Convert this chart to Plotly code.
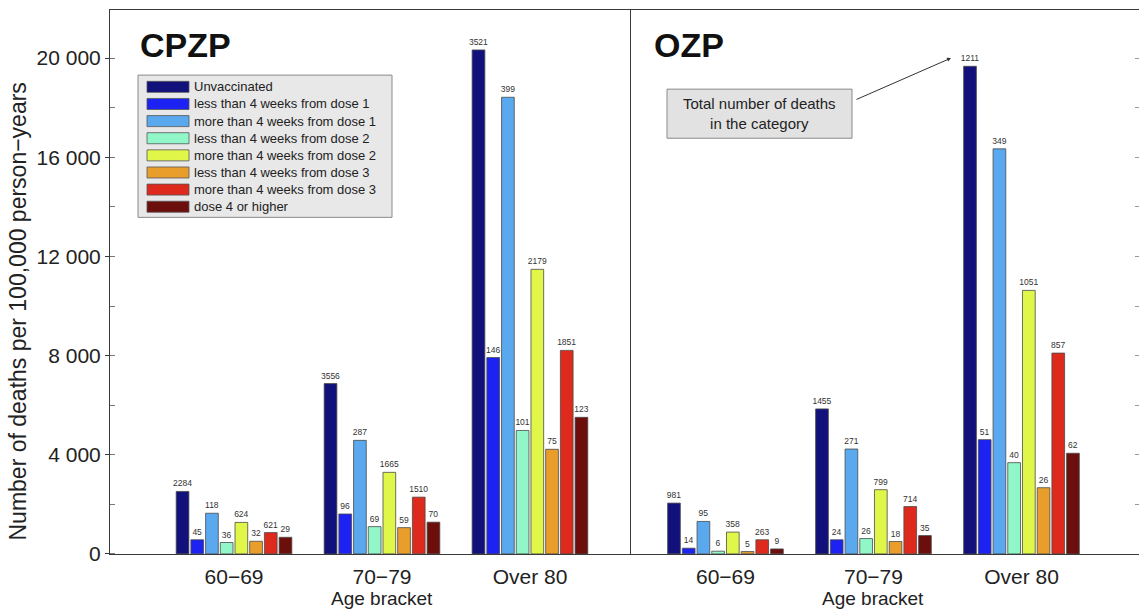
import plotly.graph_objects as go

W, H = 1139, 610
LAYOUT_H = 622  # the page trims about 12 px of plot height on display

age_brackets = ["60−69", "70−79", "Over 80"]

statuses = [
    "Unvaccinated",
    "less than 4 weeks from dose 1",
    "more than 4 weeks from dose 1",
    "less than 4 weeks from dose 2",
    "more than 4 weeks from dose 2",
    "less than 4 weeks from dose 3",
    "more than 4 weeks from dose 3",
    "dose 4 or higher",
]

colors = ["#12117c", "#1c22f2", "#5aa9ef", "#92f7c8",
          "#e0f74a", "#e99e2c", "#de2a1c", "#6c0e0c"]

# deaths per 100,000 person-years, per status: [60-69, 70-79, Over 80]
cpzp_rates = [
    [2520, 6870, 20330],
    [570, 1610, 7920],
    [1640, 4580, 18420],
    [460, 1100, 4980],
    [1270, 3290, 11480],
    [510, 1060, 4220],
    [860, 2290, 8210],
    [670, 1280, 5510],
]
cpzp_deaths = [
    [2284, 3556, 3521],
    [45, 96, 146],
    [118, 287, 399],
    [36, 69, 101],
    [624, 1665, 2179],
    [32, 59, 75],
    [621, 1510, 1851],
    [29, 70, 123],
]

ozp_rates = [
    [2050, 5850, 19670],
    [230, 570, 4610],
    [1310, 4230, 16340],
    [110, 620, 3680],
    [880, 2590, 10630],
    [95, 500, 2670],
    [570, 1910, 8100],
    [200, 740, 4060],
]
ozp_deaths = [
    [981, 1455, 1211],
    [14, 24, 51],
    [95, 271, 349],
    [6, 26, 40],
    [358, 799, 1051],
    [5, 18, 26],
    [263, 714, 857],
    [9, 35, 62],
]

y_ticks = [0, 4000, 8000, 12000, 16000, 20000]
y_tick_text = ["0", "4 000", "8 000", "12 000", "16 000", "20 000"]

FONT = "Liberation Sans, Arial, sans-serif"


def px_x(x):
    return x / W


def px_y(y):
    return 1 - y / H


fig = go.Figure()

for panel, (rates, deaths) in enumerate([(cpzp_rates, cpzp_deaths), (ozp_rates, ozp_deaths)]):
    xa = "x" if panel == 0 else "x2"
    ya = "y" if panel == 0 else "y2"
    for i, name in enumerate(statuses):
        fig.add_trace(go.Bar(
            x=age_brackets, y=rates[i], name=name,
            xaxis=xa, yaxis=ya, offsetgroup=str(i),
            marker=dict(color=colors[i], line=dict(color="#4a4a4a", width=0.8)),
            text=[str(d) for d in deaths[i]], textposition="outside",
            textangle=0, constraintext="none", cliponaxis=False,
            textfont=dict(size=8.5, color="#333333", family=FONT),
            showlegend=False,
        ))

y_top = 21940
axis_line = "#3a3a3a"

fig.update_layout(
    width=W, height=LAYOUT_H,
    margin=dict(l=0, r=0, t=0, b=0),
    paper_bgcolor="white", plot_bgcolor="white",
    barmode="group", bargap=0.205, bargroupgap=0.136,
    font=dict(family=FONT, color="#222222"),
    xaxis=dict(domain=[px_x(110), px_x(630)], range=[-0.838, 2.676],
               showline=True, mirror=True, linecolor=axis_line, linewidth=1,
               ticks="", showgrid=False, anchor="y",
               tickfont=dict(size=21, color="#222222"), ticklabelstandoff=4),
    yaxis=dict(domain=[px_y(553), px_y(10)], range=[0, y_top],
               showline=True, mirror=True, linecolor=axis_line, linewidth=1,
               showgrid=False, zeroline=False, anchor="x",
               tickvals=y_ticks, ticktext=y_tick_text,
               ticks="outside", ticklen=4, tickcolor=axis_line,
               minor=dict(dtick=2000, ticks="inside", ticklen=5, tickcolor="#777777"),
               tickfont=dict(size=21, color="#222222")),
    xaxis2=dict(domain=[px_x(630), 1.0], range=[-0.645, 2.794],
                showline=True, mirror=True, linecolor=axis_line, linewidth=1,
                ticks="", showgrid=False, anchor="y2",
                tickfont=dict(size=21, color="#222222"), ticklabelstandoff=4),
    yaxis2=dict(domain=[px_y(553), px_y(10)], range=[0, y_top],
                showline=False, showgrid=False, zeroline=False, anchor="x2",
                side="right", showticklabels=False,
                tickvals=list(range(0, 22000, 2000)),
                ticks="inside", ticklen=4, tickcolor="#999999"),
)

# y-axis title
fig.add_annotation(x=px_x(18), y=px_y(311), xref="paper", yref="paper",
                   xanchor="center", yanchor="middle", textangle=-90,
                   text="Number of deaths per 100,000 person−years",
                   showarrow=False, font=dict(size=23, color="#222222"))

# x-axis titles under the middle bracket of each panel
for xr in ("x", "x2"):
    fig.add_annotation(x="70−79", xref=xr, y=px_y(598), yref="paper",
                       xanchor="center", yanchor="middle",
                       text="Age bracket", showarrow=False,
                       font=dict(size=19, color="#222222"))

# panel titles
fig.add_annotation(x=px_x(138), y=px_y(45), xref="paper", yref="paper",
                   xanchor="left", yanchor="middle", text="<b>CPZP</b>",
                   showarrow=False, font=dict(size=34, color="#111111"))
fig.add_annotation(x=px_x(652), y=px_y(45), xref="paper", yref="paper",
                   xanchor="left", yanchor="middle", text="<b>OZP</b>",
                   showarrow=False, font=dict(size=34, color="#111111"))

# legend box
lx0, lx1, ly0, ly1 = 138, 392, 75, 217
fig.add_shape(type="rect", xref="paper", yref="paper",
              x0=px_x(lx0), x1=px_x(lx1), y0=px_y(ly1), y1=px_y(ly0),
              fillcolor="#e8e8e8", line=dict(color="#8a8a8a", width=1))
row0, row_step = 86.7, 17.1
for i, (name, col) in enumerate(zip(statuses, colors)):
    cy = row0 + i * row_step
    fig.add_shape(type="rect", xref="paper", yref="paper",
                  x0=px_x(147), x1=px_x(189), y0=px_y(cy + 5.5), y1=px_y(cy - 5.5),
                  fillcolor=col, line=dict(color="#555555", width=0.8))
    fig.add_annotation(x=px_x(192), y=px_y(cy), xref="paper", yref="paper",
                       xanchor="left", yanchor="middle", text=name,
                       showarrow=False, font=dict(size=13, color="#222222"))

# explanatory note with arrow toward a death count label
fig.add_shape(type="rect", xref="paper", yref="paper",
              x0=px_x(667), x1=px_x(852), y0=px_y(138), y1=px_y(89),
              fillcolor="#e2e2e2", line=dict(color="#8a8a8a", width=1))
fig.add_annotation(x=px_x(759.5), y=px_y(113.5), xref="paper", yref="paper",
                   xanchor="center", yanchor="middle",
                   text="Total number of deaths<br>in the category",
                   showarrow=False, font=dict(size=15, color="#222222"))
fig.add_annotation(x=px_x(951), y=px_y(58), xref="paper", yref="paper",
                   ax=-96, ay=42, text="", showarrow=True,
                   arrowhead=2, arrowsize=0.8, arrowwidth=1, arrowcolor="#333333")

fig.write_html("out.html")
